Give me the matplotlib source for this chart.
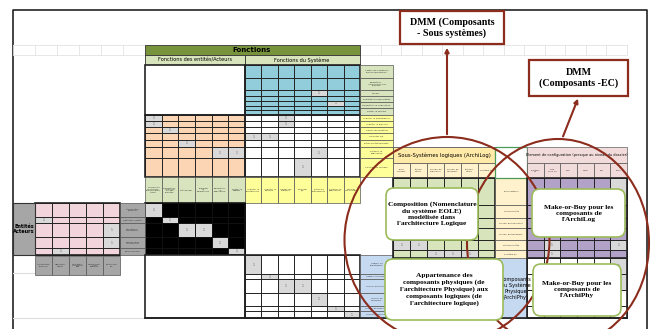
import textwrap
import matplotlib.pyplot as plt
from matplotlib.patches import Rectangle, Ellipse, FancyBboxPatch

# Libellés du tableau
actor_funcs = ["Fournir les conditions environnementales", "Paramétrer l'acquisition des données",
               "Télécharger", "Exploiter les paramètres", "Paramétrer la publication", "Router le budget"]
sys_funcs = ["Acquérir la température", "Acquérir la pression", "Lancer les requêtes",
             "Collecter T/P", "gérer les évènements", "Préparer la publication", "Calculer les courbes"]
upper_rows = ["Capter les conditions environnementales", "Paramétrer l'acquisition des données",
              "Stocker", "Exploiter les paramètres", "Paramétrer la publication", "Router le sample"]
actors = ["Atmosphère terrestre", "Opérateur Météo", "Utilisateurs scientifique",
          "Gestionnaire de diffusion", "Prévisionniste"]
archilog = ["Porte-capteurs", "Station météo", "Serveur de publication",
            "Serveur de traitement", "Stations météo", "Système Sol"]
ec_cols = ["Système C3", "Prise Sous C3", "CSCI", "HWCI", "NDI", "COTS"]
archiphy = ["Capteur de température", "Capteur de pression", "Logiciel de contrôle",
            "Logiciel de traitement", "Logiciel de publication", "Logiciel de stockage"]

# cellules "1" (ligne, colonne)
ones_blue = [(2, 4), (4, 5)]
ones_orange = [(0, 0), (1, 0), (2, 1), (4, 2), (5, 4), (5, 5)]
ones_sys = [(0, 2), (1, 2), (3, 0), (3, 1), (5, 4), (6, 3)]
ones_black = [(0, 0), (1, 1), (2, 2), (2, 3), (3, 4), (4, 5)]
ones_pink = [(1, 0), (2, 4), (3, 4), (4, 1)]
ones_low = [(0, 0), (1, 1), (2, 2), (2, 3), (3, 4), (4, 5), (5, 6)]
ones_green = [(4, 0), (4, 1), (5, 2), (5, 3), (5, 4)]
ones_purple = [(0, 5), (4, 1), (4, 5), (5, 1)]

RED = '#8b2c1c'
GREY = '#d9d9d9'
NARROW = 'Liberation Sans Narrow'

fig = plt.figure(figsize=(6.53, 3.29), dpi=100)
ax = fig.add_axes([0, 0, 1, 1])
ax.set_xlim(0, 653)
ax.set_ylim(329, 0)
ax.axis('off')


def box(x0, y0, x1, y1, fc='none', ec='#222222', lw=0.6, z=2):
    ax.add_patch(Rectangle((x0, y0), x1 - x0, y1 - y0, fc=fc, ec=ec, lw=lw, zorder=z))


def grid(xs, ys, fc, ec='#222222', lw=0.7, ones=(), one_fc=GREY, outer=1.2):
    box(xs[0], ys[0], xs[-1], ys[-1], fc=fc, ec='none', lw=0)
    for r, c in ones:
        box(xs[c], ys[r], xs[c + 1], ys[r + 1], fc=one_fc, ec='none', lw=0)
        ax.text((xs[c] + xs[c + 1]) / 2, (ys[r] + ys[r + 1]) / 2, '1', fontsize=2.2,
                ha='center', va='center', color='#555555', zorder=3)
    for x in xs:
        ax.plot([x, x], [ys[0], ys[-1]], color=ec, lw=lw, zorder=2)
    for y in ys:
        ax.plot([xs[0], xs[-1]], [y, y], color=ec, lw=lw, zorder=2)
    box(xs[0], ys[0], xs[-1], ys[-1], ec=ec, lw=outer)


def cols(x0, x1, n):
    return [x0 + (x1 - x0) * i / n for i in range(n + 1)]


def labels(xs, ys, texts, fc, vertical_list=False, size=1.8, width=11):
    for i, t in enumerate(texts):
        if vertical_list:
            x0, x1, y0, y1 = xs[0], xs[1], ys[i], ys[i + 1]
        else:
            x0, x1, y0, y1 = xs[i], xs[i + 1], ys[0], ys[1]
        box(x0, y0, x1, y1, fc=fc, ec='#555555', lw=0.5)
        txt = textwrap.fill(t, width)
        if vertical_list and (y1 - y0) < 9:
            txt = t
        ax.text((x0 + x1) / 2, (y0 + y1) / 2, txt, fontsize=size, ha='center', va='center',
                color='#333333', family=NARROW, linespacing=1.2, zorder=3, clip_on=True)


# cadre général
ax.plot([13, 13, 647, 647], [329, 10, 10, 329], color='#222222', lw=1.2, zorder=1)

# ligne d'entête grisée
for x0, x1, n in [(13, 145, 6), (360, 627, 13)]:
    for x in cols(x0, x1, n):
        ax.plot([x, x], [45, 55], color='#e3e3e3', lw=0.6)
    ax.plot([x0, x1], [45, 45], color='#e3e3e3', lw=0.6)
    ax.plot([x0, x1], [55, 55], color='#e3e3e3', lw=0.6)
ax.plot([13, 145], [318, 318], color='#dddddd', lw=0.8)
ax.plot([13, 35], [273, 273], color='#dddddd', lw=0.8)

ax_x = cols(145, 245, 6)
sy_x = cols(245, 360, 7)
al_x = cols(393, 495, 6)
ec_x = cols(527, 627, 6)
pk_x = cols(35, 120, 5)

# en-têtes Fonctions
box(145, 45, 360, 55, fc='#77933c', ec='#333333', lw=0.6)
ax.text(252, 50, 'Fonctions', fontsize=5, fontweight='bold', ha='center', va='center',
        family=NARROW, zorder=3)
box(145, 55, 245, 65, fc='#d8e4bc', ec='#333333', lw=0.6)
box(245, 55, 360, 65, fc='#d8e4bc', ec='#333333', lw=0.6)
ax.text(195, 60, 'Fonctions des entités/Acteurs', fontsize=3.6, ha='center', va='center',
        family=NARROW, zorder=3)
ax.text(302, 60, 'Fonctions du Système', fontsize=3.6, ha='center', va='center',
        family=NARROW, zorder=3)

# bloc haut
box(145, 65, 245, 115, fc='white', ec='#222222', lw=1.2)
up_y = [65, 78, 90, 96, 102, 108, 115]
grid(sy_x, [65, 78, 90, 96, 101, 106, 110, 115], '#92cddc', ones=ones_blue)
labels([360, 393], up_y, upper_rows, '#d7e4bd', vertical_list=True, size=1.6, width=22)

lo_y = [115, 121, 127, 133, 140, 147, 158, 177]
grid(ax_x, lo_y, '#fcd5b4', ones=ones_orange)
grid(sy_x, lo_y, 'white', ones=ones_sys)
labels([360, 393], lo_y, sys_funcs, '#ffff99', vertical_list=True, size=1.6, width=22)

# libellés de colonnes
labels(ax_x, [177, 203], actor_funcs, '#d7e4bd', size=1.6, width=11)
labels(sy_x, [177, 203], sys_funcs, '#ffff99', size=1.6, width=11)

# acteurs
ac_y = [203, 217, 223, 237, 248, 255]
grid(ax_x, ac_y, 'black', ec='#111111', ones=ones_black)
grid(pk_x, ac_y, '#f2d4dc', ones=ones_pink)
labels([120, 145], ac_y, actors, '#a6a6a6', vertical_list=True, size=1.6, width=14)
labels(pk_x, [256, 275], actors, '#a6a6a6', size=1.6, width=11)
box(13, 203, 35, 255, fc='#a6a6a6', ec='#333333', lw=0.8)
ax.text(24, 229, 'Entités\nActeurs', fontsize=3.6, fontweight='bold', ha='center', va='center',
        family=NARROW, linespacing=1.1, zorder=3)

# bloc bas
box(145, 255, 245, 318, fc='white', ec='#222222', lw=1.2)
low_y = [255, 274, 279, 293, 306, 311, 318]
grid(sy_x, low_y, 'white', ones=ones_low)
box(360, 256, 530, 318, fc='#c5d9f1', ec='#555555', lw=0.6)
labels([360, 393], low_y, archiphy, '#c5d9f1', vertical_list=True, size=1.5, width=20)
ax.text(516, 288, 'Composants\ndu Système\nPhysique\n(ArchiPhy)', fontsize=3.6, ha='center',
        va='center', family=NARROW, zorder=3)
grid(ec_x, [258, 274, 290, 306, 318], 'white', ones=[(0, 5), (1, 5)])
ax.plot([145, 627], [318, 318], color='#222222', lw=1.2, zorder=2)

# ArchiLog
box(393, 147, 495, 163, fc='#ffeaa7', ec='#555555', lw=0.6)
ax.text(444, 155, 'Sous-Systèmes logiques (ArchiLog)', fontsize=3.8, ha='center', va='center',
        family=NARROW, zorder=3)
labels(al_x, [163, 178], archilog, '#fff2cc', size=1.5, width=11)
gr_y = [178, 205, 218, 228, 240, 250, 258]
grid(al_x, gr_y, '#d7e4bc', ones=ones_green)
labels([495, 527], gr_y, archilog, '#fff2cc', vertical_list=True, size=1.5, width=22)
box(495, 147, 527, 178, fc='white', ec='#4a9a5a', lw=0.9)

# éléments de configuration
box(527, 147, 627, 163, fc='#f2dcdb', ec='#777777', lw=0.6)
ax.text(577, 155, 'Element de configuration (presque au niveau du dossier)', fontsize=2.5,
        ha='center', va='center', family=NARROW, zorder=3)
labels(ec_x, [163, 178], ec_cols, '#f2dcdb', size=1.5, width=8)
grid(ec_x, gr_y, '#b3a2c7', ones=ones_purple)

# cercles
ax.add_patch(Ellipse((447, 240), 205, 206, fc='none', ec=RED, lw=1.5, zorder=5))
ax.add_patch(Ellipse((558, 243), 182, 208, fc='none', ec=RED, lw=1.5, zorder=5))

# flèches
ax.annotate('', xy=(447, 45), xytext=(447, 137), zorder=6,
            arrowprops=dict(arrowstyle='-|>', color=RED, lw=1.5, mutation_scale=6))
ax.annotate('', xy=(579, 96), xytext=(562, 139), zorder=6,
            arrowprops=dict(arrowstyle='-|>', color=RED, lw=1.5, mutation_scale=6))

# cartouches DMM
serif = 'Liberation Serif'
box(400, 11, 504, 44, fc='white', ec=RED, lw=1.6, z=7)
ax.text(452, 27.5, 'DMM (Composants\n- Sous systèmes)', fontsize=7.2, fontweight='bold',
        ha='center', va='center', family=serif, linespacing=1.2, zorder=8)
box(529, 60, 628, 96, fc='white', ec=RED, lw=1.6, z=7)
ax.text(578.5, 78, 'DMM\n(Composants -EC)', fontsize=7.2, fontweight='bold',
        ha='center', va='center', family=serif, linespacing=1.2, zorder=8)

# bulles de texte
bubbles = [
    (386, 188, 478, 240, "Composition (Nomenclature\ndu système EOLE)\nmodélisée dans\nl'architecture Logique"),
    (385, 259, 503, 320, "Appartenance des\ncomposants physiques (de\nl'architecture Physique) aux\ncomposants logiques (de\nl'architecture logique)"),
    (532, 189, 625, 237, "Make-or-Buy pour les\ncomposants de\nl'ArchiLog"),
    (533, 264, 621, 316, "Make-or-Buy pour les\ncomposants de\nl'ArchiPhy"),
]
for x0, y0, x1, y1, t in bubbles:
    ax.add_patch(FancyBboxPatch((x0, y0), x1 - x0, y1 - y0,
                                boxstyle='round,pad=0,rounding_size=8',
                                fc='white', ec='#9bbb59', lw=1.2, zorder=9))
    ax.text((x0 + x1) / 2, (y0 + y1) / 2, t, fontsize=5.3, fontweight='bold', ha='center',
            va='center', family=serif, linespacing=1.25, zorder=10)

fig.savefig('out.png', dpi=100)
